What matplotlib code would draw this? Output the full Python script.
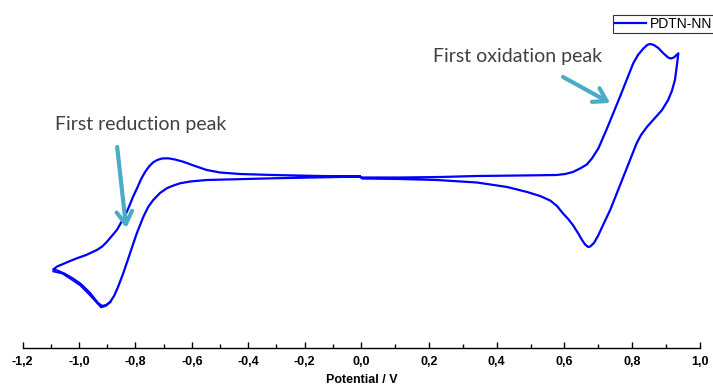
import matplotlib
matplotlib.use("Agg")
import matplotlib.pyplot as plt
import numpy as np
from matplotlib.ticker import MultipleLocator, FuncFormatter

# potential (V) and current (arb. units), one closed CV loop
potential = [0.003, 0.115, 0.233, 0.341, 0.469, 0.577, 0.602, 0.625, 0.646, 0.666,
             0.681, 0.700, 0.725, 0.764, 0.803, 0.817, 0.833, 0.844, 0.853, 0.864,
             0.877, 0.891, 0.906, 0.914, 0.923, 0.936,
             0.932, 0.926, 0.917, 0.906, 0.888, 0.867, 0.844, 0.826, 0.813, 0.774,
             0.735, 0.714, 0.699, 0.687, 0.676, 0.670, 0.661, 0.652, 0.640, 0.625,
             0.611, 0.596, 0.578, 0.558, 0.528, 0.490, 0.431, 0.342, 0.224, 0.115, 0.003,
             -0.004, -0.135, -0.312, -0.547, -0.606, -0.642, -0.670, -0.689, -0.713,
             -0.737, -0.755, -0.772, -0.795, -0.819, -0.843, -0.862, -0.876, -0.890,
             -0.904, -0.918, -0.933, -0.947, -0.961, -0.979, -0.996, -1.025, -1.053,
             -1.078, -1.092,
             -1.078, -1.057, -1.032, -1.008, -0.975, -0.937, -0.918, -0.902, -0.887,
             -0.866, -0.851, -0.831, -0.819, -0.809, -0.794, -0.780, -0.766, -0.752,
             -0.738, -0.723, -0.706, -0.684, -0.660, -0.631, -0.589, -0.547, -0.500,
             -0.429, -0.312, -0.145, -0.004]
current = [-0.05, -0.05, 0.00, 0.10, 0.15, 0.20, 0.30, 0.50, 0.85, 1.25,
           1.85, 2.85, 4.80, 8.03, 11.37, 12.20, 12.85, 13.20, 13.30, 13.20,
           12.90, 12.40, 11.95, 11.85, 11.95, 12.37,
           11.20, 9.70, 8.60, 7.70, 6.70, 5.90, 5.03, 4.20, 3.37, 0.03,
           -3.30, -4.80, -5.90, -6.60, -6.95, -7.00, -6.75, -6.30, -5.60, -4.80,
           -4.20, -3.65, -2.90, -2.35, -1.90, -1.50, -1.00, -0.55, -0.30, -0.20, -0.15,
           0.05, -0.03, -0.13, -0.30, -0.45, -0.63, -0.90, -1.13, -1.60,
           -2.30, -3.00, -3.97, -5.60, -7.60, -9.60, -11.00, -11.90, -12.50,
           -12.80, -12.90, -12.60, -12.10, -11.60, -11.10, -10.65, -10.10, -9.65,
           -9.35, -9.25,
           -8.95, -8.70, -8.40, -8.13, -7.80, -7.30, -6.95, -6.50, -6.00,
           -5.30, -4.55, -3.50, -2.70, -2.00, -1.10, -0.20, 0.50, 1.05,
           1.45, 1.70, 1.85, 1.87, 1.75, 1.53, 1.10, 0.70, 0.45,
           0.30, 0.20, 0.10, 0.05]

# second cycle, only where it separates from the first (cathodic branch near -1 V)
potential2 = [-1.092, -1.060, -1.030, -0.996, -0.961, -0.940, -0.922, -0.905, -0.888]
current2 = [-9.45, -9.65, -10.2, -10.85, -11.85, -12.5, -13.05, -12.9, -12.5]

xticks = [-1.2, -1.0, -0.8, -0.6, -0.4, -0.2, 0.0, 0.2, 0.4, 0.6, 0.8, 1.0]

# annotations: (text, text position, arrow tail, arrow tip) in data units
ann_red = ("First reduction peak", (-0.780, 5.2), (-0.865, 3.0), (-0.833, -5.1))
ann_ox = ("First oxidation peak", (0.463, 12.0), (0.596, 10.0), (0.735, 7.4))

line_color = "#0000ff"
arrow_color = "#4bacc6"
text_color = "#404040"

plt.rcParams['font.family'] = ['Liberation Sans', 'DejaVu Sans']

fig = plt.figure(figsize=(7.13, 3.92), dpi=100)
ax = fig.add_axes([22.7 / 713, 44 / 392, (700 - 22.7) / 713, 348 / 392])

# the picture is two scans stitched at 0 V: negative side is compressed
k = 282.0 / 339.0
def fwd(x):
    x = np.asarray(x, dtype=float)
    return np.where(x < 0, x * k, x)
def inv(x):
    x = np.asarray(x, dtype=float)
    return np.where(x < 0, x / k, x)
ax.set_xscale('function', functions=(fwd, inv))

ln, = ax.plot(potential, current, color=line_color, lw=1.6, label="PDTN-NN",
              solid_joinstyle='round')
ax.plot(potential2, current2, color=line_color, lw=1.2, solid_joinstyle='round')

ax.set_xlim(-1.2, 1.0)
ax.set_ylim(-17.1, 17.7)

for s in ['left', 'right', 'top']:
    ax.spines[s].set_visible(False)
ax.spines['bottom'].set_linewidth(1.0)
ax.set_yticks([])
ax.set_xticks(xticks)
ax.xaxis.set_minor_locator(MultipleLocator(0.1))
ax.xaxis.set_major_formatter(FuncFormatter(lambda v, p: f"{v:.1f}".replace('.', ',').replace('-0,0', '0,0')))
ax.tick_params(axis='x', which='major', direction='in', length=4, width=1, pad=6,
               labelsize=9)
ax.tick_params(axis='x', which='minor', direction='in', length=3, width=1)
for lab in ax.get_xticklabels():
    lab.set_fontweight('bold')
ax.set_xlabel("Potential / V", fontsize=9, fontweight='bold', labelpad=4)

for text, tpos, tail, tip in [ann_red, ann_ox]:
    ax.text(tpos[0], tpos[1], text, fontsize=14, color=text_color,
            family=['Lato', 'DejaVu Sans'], ha='center', va='center')
    ax.annotate("", xy=tip, xytext=tail,
                arrowprops=dict(arrowstyle='->,head_length=0.45,head_width=0.28',
                                color=arrow_color, lw=3, mutation_scale=20,
                                shrinkA=0, shrinkB=0))

fig.legend(handles=[ln], loc='upper left', bbox_to_anchor=(613 / 713, 1 - 15 / 392),
           fontsize=10, frameon=True, fancybox=False, edgecolor='black',
           handlelength=2.2, handletextpad=0.3, borderpad=0.15, borderaxespad=0)
fig.legends[0].get_frame().set_linewidth(0.8)

fig.savefig("out.png", dpi=100, facecolor='white')
